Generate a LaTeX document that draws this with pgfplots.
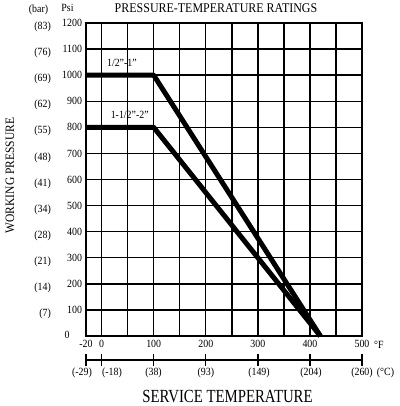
\documentclass[border=0pt]{standalone}
\usepackage{fontspec}
\setmainfont{Liberation Serif}[FakeStretch=0.9]
\newfontfamily\condfont{Liberation Serif}[FakeStretch=0.8]
\usepackage{pgfplots}
\pgfplotsset{compat=1.18}
\begin{document}
\begin{tikzpicture}[x=1pt,y=1pt]
\path[use as bounding box] (-86,-70) rectangle (313,336);
\begin{axis}[
  at={(0,0)}, anchor=south west,
  scale only axis, width=276pt, height=313pt,
  xmin=-30, xmax=500, ymin=0, ymax=1200,
  xtick={-30,0,100,200,300,400,500},
  xticklabels={-20,0,100,200,300,400,500},
  minor xtick={50,150,250,350,450},
  ytick={0,100,...,1200},
  yticklabels={,100,200,300,400,500,600,700,800,900,1000,1100,1200},
  grid=both,
  major grid style={black, line width=1.4pt},
  minor grid style={black, line width=1.4pt},
  axis line style={black, line width=1.4pt},
  major tick length=0pt, minor tick length=0pt,
  /pgf/number format/assume math mode=true,
  /pgf/number format/1000 sep={},
  tick label style={font=\fontsize{11}{12}\selectfont},
  yticklabel style={xshift=-0.5pt},
  xticklabel style={yshift=-0.5pt},
  clip=false,
]
\addplot[black, line width=5pt, line join=round] coordinates {(-30,1000) (100,1000) (420,0)};
\addplot[black, line width=5pt, line join=round] coordinates {(-30,800) (100,800) (420,0)};
\node[font=\fontsize{11}{12}\selectfont] at (axis cs:39,1046) {1/2"-1"};
\node[font=\fontsize{11}{12}\selectfont] at (axis cs:54,846) {1-1/2"-2"};
\end{axis}
% bar labels
\foreach \p/\b in {1200/83,1100/76,1000/69,900/62,800/55,700/48,600/41,500/34,400/28,300/21,200/14,100/7}{
  \node[anchor=east, inner sep=0pt, font=\fontsize{11}{12}\selectfont] at (-35,{\p/1200*313-4}) {(\b)};
}
\node[font=\fontsize{11}{12}\selectfont] at (-19,1) {0};
\node[font=\fontsize{11}{12}\selectfont] at (-47.5,326) {(bar)};
\node[font=\fontsize{11}{12}\selectfont] at (-18.5,328) {Psi};
\node[font=\fontsize{13.3}{14}\selectfont] at (130,328) {PRESSURE-TEMPERATURE RATINGS};
\node[rotate=90, font=\fontsize{12.8}{14}\selectfont] at (-76,160.5) {WORKING PRESSURE};
\node[anchor=base, inner sep=0pt, font=\condfont\fontsize{18.5}{20}\selectfont] at (141.5,-66.5) {SERVICE TEMPERATURE};
\node[anchor=west, inner sep=0pt, font=\fontsize{11}{12}\selectfont] at (288,-9) {°F};
% Celsius scale
\draw[black, line width=1.4pt] (0,-24) -- (276,-24);
\foreach \t in {-30,0,100,200,300,400,500}{
  \draw[black, line width=1.4pt] ({(\t+30)/530*276},-18) -- ({(\t+30)/530*276},-30);
}
\foreach \x/\c in {-4/(-29),26/(-18),67.5/(38),119.8/(93),173/(149),225/(204),276/(260),299.5/(°C)}{
  \node[font=\fontsize{11}{12}\selectfont] at (\x,-37) {\c};
}
\end{tikzpicture}
\end{document}
